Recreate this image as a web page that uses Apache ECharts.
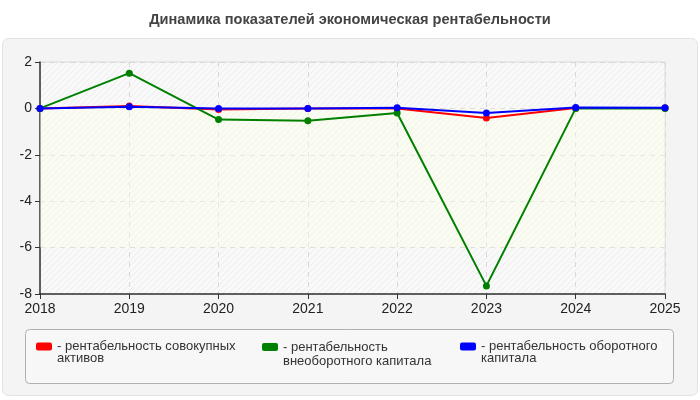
<!DOCTYPE html>
<html><head><meta charset="utf-8">
<script src="https://cdn.jsdelivr.net/npm/echarts@6/dist/echarts.min.js"></script>
<style>html,body{margin:0;padding:0;background:#fff}#c{width:700px;height:400px}</style>
</head><body><div id="c"></div>
<script>
const years = ['2018','2019','2020','2021','2022','2023','2024','2025'];
const seriesNames = ['рентабельность совокупных активов','рентабельность внеоборотного капитала','рентабельность оборотного капитала'];
const legendLabels = ['- рентабельность совокупных\nактивов','- рентабельность\nвнеоборотного капитала','- рентабельность оборотного\nкапитала'];
const totalAssets = [0, 0.1, -0.05, 0, 0, -0.41, 0.02, 0.02];
const nonCurrent = [0, 1.52, -0.48, -0.53, -0.2, -7.65, 0, 0];
const current = [0, 0.07, 0, 0, 0.03, -0.2, 0.04, 0.03];
const colors = ['#ff0000','#008000','#0000ff'];
const yTicks = {min:-8, max:2, interval:2};

const pc = document.createElement('canvas');
pc.width = 6; pc.height = 6;
const g = pc.getContext('2d');
g.fillStyle = '#f9f9f9'; g.fillRect(0,0,6,6);
g.strokeStyle = '#ececec'; g.lineWidth = 1;
g.beginPath(); g.moveTo(0,6); g.lineTo(6,0); g.moveTo(-1,1); g.lineTo(1,-1); g.moveTo(5,7); g.lineTo(7,5); g.stroke();

const font = '"Liberation Sans", Arial, sans-serif';
const chart = echarts.init(document.getElementById('c'));
const dataSets = [totalAssets, nonCurrent, current];
const legendX = [36, 262, 460];
const legendLH = [12, 14, 12];
chart.setOption({
  animation: false,
  backgroundColor: '#fff',
  title: {text: 'Динамика показателей экономическая рентабельности', left: 'center', top: 12, padding: 0,
    textStyle: {fontFamily: font, fontWeight: 'bold', fontSize: 14.6, color: '#444'}},
  graphic: [
    {type: 'rect', left: 2, top: 38, z: -10, shape: {width: 695, height: 357, r: 6},
     style: {fill: '#f4f4f4', stroke: '#e2e2e2', lineWidth: 1}},
    {type: 'rect', left: 25, top: 329, z: -5, shape: {width: 648, height: 54, r: 4},
     style: {fill: '#f7f7f7', stroke: '#b0b0b0', lineWidth: 1}}
  ],
  legend: seriesNames.map((n, i) => ({
    data: [n], left: legendX[i], top: 340 - legendLH[i], padding: 0, itemWidth: 16, itemHeight: 8, icon: 'roundRect',
    formatter: () => ' \n' + legendLabels[i], itemGap: 4,
    textStyle: {fontFamily: font, fontSize: 13, color: '#333', lineHeight: legendLH[i]}
  })),
  grid: {left: 40, right: 35, top: 62, bottom: 106, show: true, borderColor: '#dcdcdc', borderWidth: 1,
    backgroundColor: {image: pc, repeat: 'repeat'}},
  xAxis: {type: 'category', data: years, boundaryGap: false,
    axisLine: {onZero: false, lineStyle: {color: '#333', width: 1.5}},
    axisTick: {lineStyle: {color: '#333'}, length: 5},
    axisLabel: {fontFamily: font, fontSize: 14, color: '#222', margin: 8},
    splitLine: {show: true, lineStyle: {color: '#d8d8d8', type: [5,5]}}},
  yAxis: {type: 'value', min: yTicks.min, max: yTicks.max, interval: yTicks.interval,
    axisLine: {show: true, lineStyle: {color: '#333', width: 1.5}},
    axisTick: {show: true, lineStyle: {color: '#333'}, length: 5},
    axisLabel: {fontFamily: font, fontSize: 14, color: '#222', margin: 8},
    splitLine: {show: true, lineStyle: {color: '#d8d8d8', type: [5,5]}}},
  series: seriesNames.map((n, i) => ({
    name: n, type: 'line', data: dataSets[i], symbol: 'circle', symbolSize: 7,
    itemStyle: {color: colors[i]}, lineStyle: {width: 2, color: colors[i]},
    z: 2 + i,
    markArea: i === 0 ? {silent: true, itemStyle: {color: 'rgba(252,255,230,0.45)'},
      data: [[{yAxis: 0}, {yAxis: -6}]]} : undefined
  }))
});
</script></body></html>
